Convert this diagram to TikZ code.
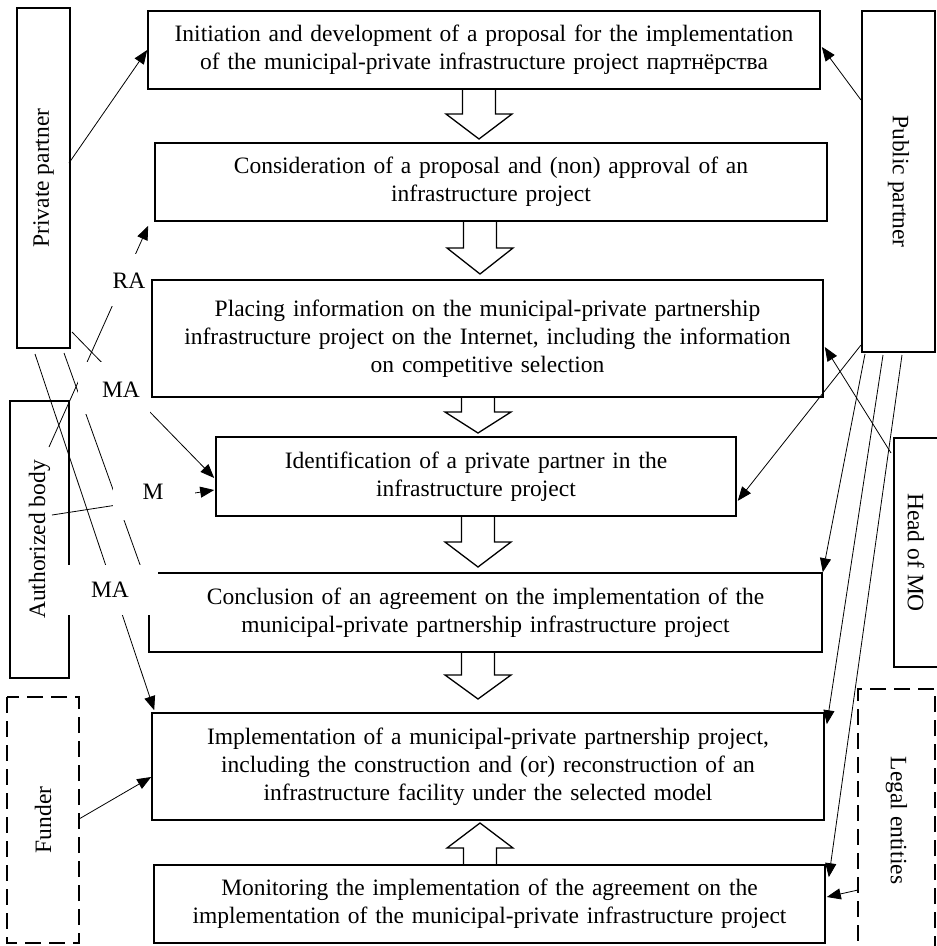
\documentclass[tikz,border=0pt]{standalone}
\usepackage{fontspec}
\setmainfont{Liberation Serif}
\usetikzlibrary{arrows.meta,calc}
\newcommand\blkdown[4]{\draw[blk] (#1-16.5,#2) -- (#1+16.5,#2) -- (#1+16.5,#3) -- (#1+33,#3) -- (#1,#4) -- (#1-33,#3) -- (#1-16.5,#3) -- cycle;}
\begin{document}
\begin{tikzpicture}[x=1pt,y=-1pt,
  box/.style={draw, line width=1.6pt, inner sep=0pt, align=center, font=\fontsize{23.5}{28}\selectfont},
  side/.style={draw, line width=1.6pt, inner sep=0pt, font=\fontsize{23.5}{28}\selectfont},
  dside/.style={side, dash pattern=on 16pt off 8pt},
  conn/.style={line width=0.8pt},
  arr/.style={conn, -{Triangle[length=14pt,width=11pt]}},
  blk/.style={draw, fill=white, line width=1.3pt},
  lbl/.style={inner sep=0pt, font=\fontsize{23.5}{28}\selectfont}]
\useasboundingbox (0,0) rectangle (937,946);

% hollow block arrows between the stages
\blkdown{479}{89}{114}{139}
\blkdown{480}{221}{248}{274}
\blkdown{478}{397}{412}{433}
\blkdown{478}{516}{542}{567}
\blkdown{478}{652}{675}{699}
\blkdown{480}{865}{848}{823}

% main stages
\node[box, minimum width=672, minimum height=78, text width=666] (init) at (484,50)
  {Initiation and development of a proposal for the implementation\\ of the municipal-private infrastructure project партнёрства};
\node[box, minimum width=672, minimum height=78, text width=666] (consid) at (491,182)
  {Consideration of a proposal and (non) approval of an\\ infrastructure project};
\node[box, minimum width=671, minimum height=117, text width=665] (place) at (487.5,338.5)
  {Placing information on the municipal-private partnership\\ infrastructure project on the Internet, including the information\\ on competitive selection};
\node[box, minimum width=520, minimum height=79, text width=514] (ident) at (476,476.5)
  {Identification of a private partner in the\\ infrastructure project};
\node[box, minimum width=673, minimum height=79, text width=667] (concl) at (485.5,612.5)
  {Conclusion of an agreement on the implementation of the\\ municipal-private partnership infrastructure project};
\node[box, minimum width=672, minimum height=107, text width=666] (impl) at (488,766.5)
  {Implementation of a municipal-private partnership project,\\ including the construction and (or) reconstruction of an\\ infrastructure facility under the selected model};
\node[box, minimum width=671, minimum height=78, text width=665] (monit) at (489.5,904)
  {Monitoring the implementation of the agreement on the\\ implementation of the municipal-private infrastructure project};

% participants
\node[side, rotate=90, minimum width=340, minimum height=53] (pp) at (43.5,178) {Private partner};
\node[side, rotate=90, minimum width=277, minimum height=59] (ab) at (39.5,539.5) {Authorized body};
\node[dside, rotate=90, minimum width=246, minimum height=72] (fund) at (43,820) {Funder};
\node[side, rotate=-90, minimum width=341, minimum height=73] (pub) at (898.5,181.5) {Public partner};
\node[side, rotate=-90, minimum width=229, minimum height=44] (head) at (916,552.5) {Head of MO};
\node[dside, rotate=-90, minimum width=263, minimum height=77] (legal) at (896.5,820.5) {Legal entities};

% connector start points
\coordinate (sPP) at (69,163);
\coordinate (sRA) at (49,447);
\coordinate (sMA) at (72,332);
\coordinate (sM) at (52,515);
\coordinate (sA) at (35,354);
\coordinate (sB) at (64,353);
\coordinate (sF) at (79,819);
\coordinate (sP1) at (861,100);
\coordinate (sP2) at (861,345);
\coordinate (sH) at (891,453);
\coordinate (sP3) at (865,354);
\coordinate (sP4) at (883,355);
\coordinate (sP5) at (902,355);
\coordinate (sL) at (858,890);

% left connectors
\draw[arr] (sPP) -- (init.west);
\draw[arr] (sRA) -- ($(consid.south west)+(-6,4)$);
\draw[arr] (sMA) -- ($(ident.west)+(-1,1.5)$);
\draw[arr] (sM) -- ($(ident.west)+(-1,13.5)$);
\draw[arr] (sA) -- ($(impl.north west)+(3,-2)$);
\draw[conn] (sB) -- ($(concl.west)+(0,-25)$);
\draw[arr] (sF) -- ($(impl.west)+(0,10.5)$);

% right connectors
\draw[arr] (sP1) -- ($(init.east)+(1,-3)$);
\draw[arr] (sP2) -- ($(ident.south east)+(1,-16)$);
\draw[arr] (sH) -- ($(place.east)+(1,8.5)$);
\draw[arr] (sP3) -- (concl.north east);
\draw[arr] (sP4) -- ($(impl.north east)+(2,12)$);
\draw[arr] (sP5) -- ($(monit.north east)+(3,13)$);
\draw[arr] (sL) -- ($(monit.east)+(1,-7)$);

% white grounds of the labels
\fill[white] (102,254) rectangle (150,306);
\fill[white] (78,362) rectangle (150,414);
\fill[white] (113,487) rectangle (195,520);
\fill[white] (62,565) rectangle (158,615);

% labels
\node[lbl] (lRA) at (129,281) {RA};
\node[lbl] (lMA1) at (121,390) {MA};
\node[lbl] (lM) at (153,492) {M};
\node[lbl] (lMA2) at (110,590) {MA};
\end{tikzpicture}
\end{document}
